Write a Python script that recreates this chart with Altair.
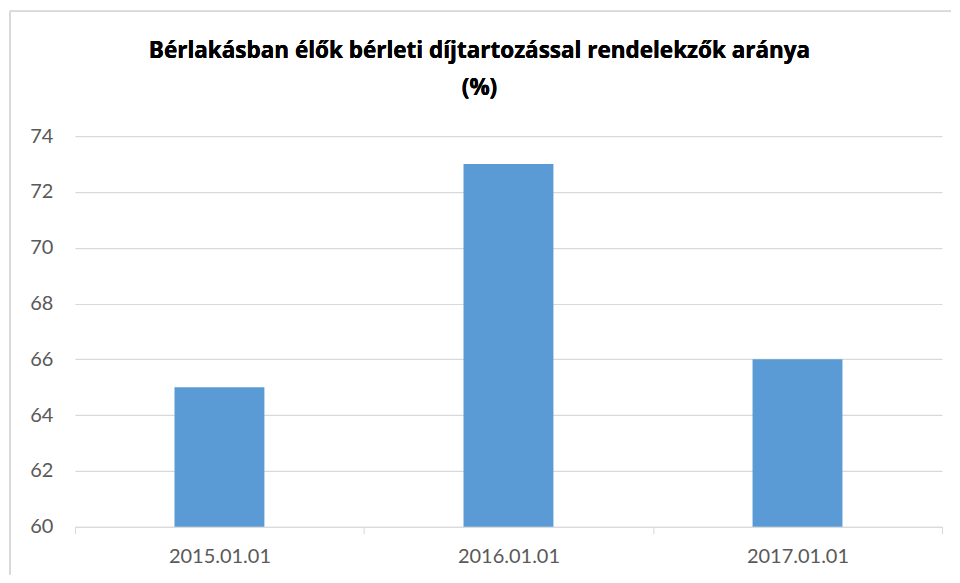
import altair as alt
import pandas as pd

categories = ["2015.01.01", "2016.01.01", "2017.01.01"]
values = [65, 73, 66]
title_lines = ["Bérlakásban élők bérleti díjtartozással rendelekzők aránya", "(%)"]
y_ticks = [60, 62, 64, 66, 68, 70, 72, 74]

df = pd.DataFrame({"cat": categories, "val": values})
FONT = "Lato"
GRID = "#D9D9D9"

bars = alt.Chart(df).mark_bar(size=90, color="#5B9BD5").encode(
    x=alt.X("cat:N", sort=categories, title=None,
            scale=alt.Scale(paddingInner=0, paddingOuter=0),
            axis=alt.Axis(labelAngle=0, labelFont=FONT, labelFontSize=20,
                          labelColor="#595959", labelPadding=13,
                          domainColor=GRID, domainWidth=1,
                          tickColor=GRID, tickSize=7, tickBand="extent",
                          grid=False)),
    y=alt.Y("val:Q", title=None,
            scale=alt.Scale(domain=[60, 74], nice=False, zero=False),
            axis=alt.Axis(values=y_ticks, labelFont=FONT, labelFontSize=20,
                          labelColor="#595959", labelPadding=22,
                          domain=False, ticks=False,
                          gridColor=GRID, gridWidth=1.2)),
    y2=alt.datum(60),
)

frame_left = alt.Chart(df).mark_rule(color=GRID, strokeWidth=1.5).encode(
    x=alt.value(-65), y=alt.value(-125), y2=alt.value(439)
)
frame_top = alt.Chart(df).mark_rule(color=GRID, strokeWidth=1.5).encode(
    x=alt.value(-65), x2=alt.value(877), y=alt.value(-125)
)

title1 = alt.Chart(df).mark_text(font="Open Sans", fontSize=22.5, fontWeight="bold",
                                 color="#000000", align="center",
                                 baseline="alphabetic").encode(
    x=alt.value(405), y=alt.value(-78), text=alt.value(title_lines[0])
)
title2 = alt.Chart(df).mark_text(font="Open Sans", fontSize=22.5, fontWeight="bold",
                                 color="#000000", align="center",
                                 baseline="alphabetic").encode(
    x=alt.value(405), y=alt.value(-41), text=alt.value(title_lines[1])
)

chart = alt.layer(bars, frame_left, frame_top, title1, title2).properties(
    width=868, height=391,
    padding={"left": 1, "top": 2, "right": 0, "bottom": 0},
).configure_view(stroke=None)

chart.save("out.html", embed_options={"renderer": "svg", "actions": False})
